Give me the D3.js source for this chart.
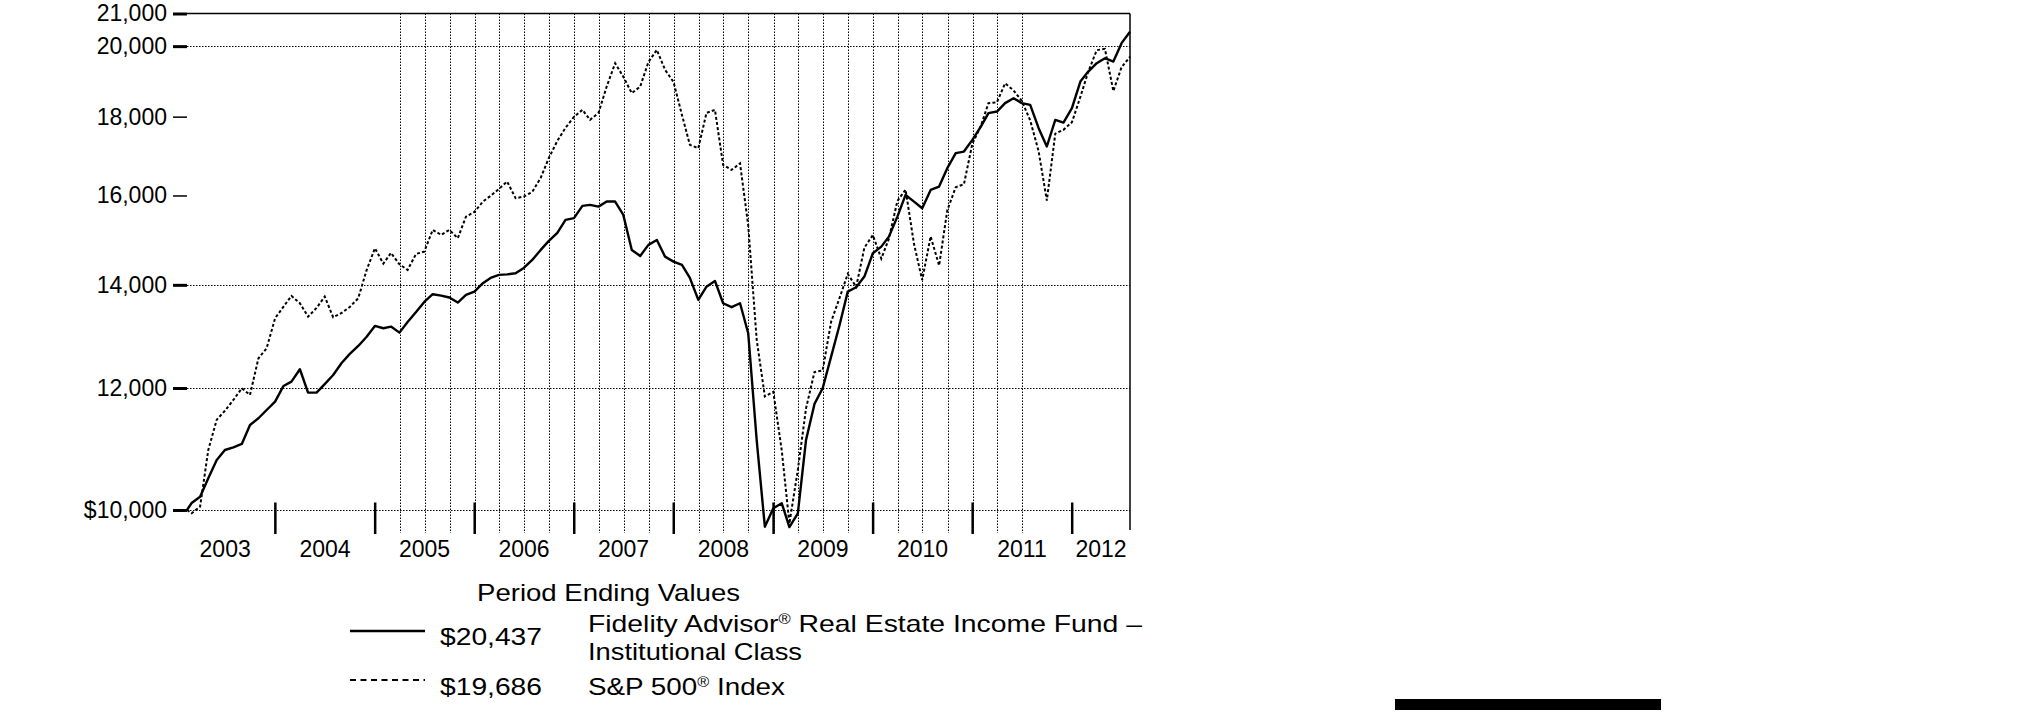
<!DOCTYPE html>
<html>
<head>
<meta charset="utf-8">
<script src="https://cdn.jsdelivr.net/npm/d3@7"></script>
<style>
body { margin: 0; background: #fff; }
text { font-family: "Liberation Sans", Arial, Helvetica, sans-serif; fill: #000; }
</style>
</head>
<body>
<svg id="chart" width="2025" height="728"></svg>
<script>
// growth of $10,000, first value at fund start then month ends Feb 2003 .. Jul 2012
var startDate = "2003-02-11";
var endDate = "2012-07-31";
var fundValues = [10000,
  10105, 10201, 10487, 10776, 10938, 10982, 11038, 11355, 11469, 11612, 11757,
  12037, 12115, 12341, 11917, 11917, 12070, 12236, 12457, 12627, 12778, 12951, 13166,
  13121, 13153, 13035, 13245, 13444, 13647, 13805, 13777, 13737, 13634, 13791, 13859,
  14034, 14145, 14209, 14220, 14245, 14358, 14531, 14750, 14950, 15130, 15426, 15466,
  15753, 15777, 15736, 15855, 15855, 15542, 14750, 14618, 14861, 14972, 14603, 14494,
  14423, 14145, 13688, 13962, 14082, 13620, 13540, 13620, 13023, 11103, 9753, 10025,
  10101, 9749, 9951, 11103, 11718, 11995, 12576, 13185, 13859, 13949, 14174, 14676,
  14823, 15046, 15503, 16013, 15855, 15698, 16134, 16214, 16666, 17044, 17085, 17386,
  17735, 18094, 18138, 18367, 18504, 18367, 18320, 17692, 17215, 17914, 17842, 18230,
  18969, 19254, 19497, 19644, 19545, 20090, 20437];
var indexValues = [10000,
  9951, 10050, 10938, 11445, 11598, 11787, 11995, 11876, 12545, 12734, 13318,
  13551, 13771, 13620, 13350, 13525, 13757, 13338, 13424, 13545, 13723, 14300, 14787,
  14451, 14683, 14437, 14315, 14662, 14712, 15198, 15085, 15198, 15010, 15503, 15612,
  15855, 15990, 16158, 16336, 15935, 15973, 16085, 16426, 16925, 17360, 17701, 17994,
  18184, 17914, 18102, 18829, 19497, 19104, 18643, 18829, 19530, 19890, 19304, 18960,
  18047, 17257, 17172, 18102, 18184, 16748, 16624, 16785, 15300, 12900, 11850, 11930,
  10930, 9800, 10620, 11640, 12290, 12320, 13250, 13730, 14230, 13960, 14800, 15080,
  14560, 15000, 15870, 16140, 14880, 14100, 15050, 14410, 15650, 16200, 16270, 17290,
  17750, 18367, 18390, 18920, 18720, 18430, 17900, 17090, 15880, 17550, 17650, 17850,
  18540, 19250, 19880, 19920, 18700, 19380, 19686];
var yTicks = [10000, 12000, 14000, 16000, 18000, 20000, 21000];
var yGridValues = [10000, 12000, 14000, 20000];
var yMinorTicks = [16000, 18000];
var years = [2003, 2004, 2005, 2006, 2007, 2008, 2009, 2010, 2011, 2012];
var legendTitle = "Period Ending Values";
var seriesNames = ["Fidelity Advisor", "S&P 500"];
var endingValues = ["$20,437", "$19,686"];

var svg = d3.select("#chart");
var parse = d3.timeParse("%Y-%m-%d");
var t0 = parse(startDate), t1 = parse(endDate);

var left = 187, right = 1130, bottom = 533;
var x = d3.scaleTime().domain([t0, t1]).range([left, right]);
var y = d3.scaleLog().domain([10000, 21000]).range([510, 13.5]);

var monthEnds = d3.timeMonth.range(new Date(2003, 2, 1), new Date(2012, 7, 2))
  .map(function(d) { return d3.timeDay.offset(d, -1); });
var dates = [t0].concat(monthEnds);
var fund = dates.map(function(d, i) { return {date: d, value: fundValues[i]}; });
var index = dates.map(function(d, i) { return {date: d, value: indexValues[i]}; });

// grid
var grid = svg.append("g").attr("stroke", "#000").attr("stroke-width", 1).attr("stroke-dasharray", "1.5,1.5");
grid.selectAll("line.hg").data(yGridValues).enter().append("line").attr("class", "hg")
  .attr("x1", left).attr("x2", right)
  .attr("y1", function(d) { return Math.round(y(d)) + 0.5; })
  .attr("y2", function(d) { return Math.round(y(d)) + 0.5; });
// quarterly verticals, Apr 2005 .. Jul 2011
var quarters = d3.range(26).map(function(i) { return new Date(2005, 3 + 3 * i, 1); });
grid.selectAll("line.vg").data(quarters).enter().append("line").attr("class", "vg")
  .attr("x1", function(d) { return Math.round(x(d)) + 0.5; })
  .attr("x2", function(d) { return Math.round(x(d)) + 0.5; })
  .attr("y1", y(21000)).attr("y2", bottom);

// frame: top and right
svg.append("line").attr("x1", left).attr("x2", right).attr("y1", y(21000)).attr("y2", y(21000))
  .attr("stroke", "#000").attr("stroke-width", 1.5);
svg.append("line").attr("x1", right).attr("x2", right).attr("y1", y(21000)).attr("y2", bottom - 3)
  .attr("stroke", "#000").attr("stroke-width", 1.5);

// y axis
var yAxis = svg.append("g").attr("transform", "translate(" + left + ",0)")
  .call(d3.axisLeft(y).tickValues(yTicks).tickSize(14).tickPadding(6)
    .tickFormat(function(d) { return (d === 10000 ? "$" : "") + d3.format(",")(d); }));
yAxis.select(".domain").remove();
yAxis.selectAll(".tick line").attr("stroke", "#000")
  .attr("stroke-width", function(d) { return yMinorTicks.indexOf(d) >= 0 ? 1.5 : 3; });
yAxis.selectAll(".tick text").attr("font-size", 23).attr("fill", "#000")
  .style("font-family", "'Liberation Sans', Arial, sans-serif");

// year ticks and labels
var yearStarts = d3.timeYear.range(new Date(2004, 0, 1), new Date(2012, 0, 2));
svg.append("g").selectAll("line").data(yearStarts).enter().append("line")
  .attr("x1", function(d) { return x(d); }).attr("x2", function(d) { return x(d); })
  .attr("y1", 502.5).attr("y2", 534).attr("stroke", "#000").attr("stroke-width", 2.5);
svg.append("g").selectAll("text").data(years).enter().append("text")
  .attr("x", function(d) {
    if (new Date(d + 1, 0, 1) > t1) return (x(new Date(d, 0, 1)) + right) / 2;
    return x(new Date(d, 6, 1));
  })
  .attr("y", 557).attr("text-anchor", "middle").attr("font-size", 23)
  .text(function(d) { return d; });

// series
var line = d3.line().x(function(d) { return x(d.date); }).y(function(d) { return y(d.value); });
svg.append("path").datum(index).attr("d", line).attr("fill", "none")
  .attr("stroke", "#000").attr("stroke-width", 2).attr("stroke-dasharray", "3,2.2");
svg.append("path").datum(fund).attr("d", line).attr("fill", "none")
  .attr("stroke", "#000").attr("stroke-width", 2.4).attr("stroke-linejoin", "round");

// legend
var fs = 24;
var lg = svg.append("g");
lg.append("text").attr("x", 477).attr("y", 601).attr("font-size", fs)
  .attr("textLength", 263).attr("lengthAdjust", "spacingAndGlyphs").text(legendTitle);
lg.append("line").attr("x1", 350).attr("x2", 425).attr("y1", 631).attr("y2", 631)
  .attr("stroke", "#000").attr("stroke-width", 2.4);
lg.append("line").attr("x1", 350).attr("x2", 425).attr("y1", 680).attr("y2", 680)
  .attr("stroke", "#000").attr("stroke-width", 2).attr("stroke-dasharray", "6,4.5");
lg.append("text").attr("x", 440).attr("y", 645).attr("font-size", fs)
  .attr("textLength", 102).attr("lengthAdjust", "spacingAndGlyphs").text(endingValues[0]);
lg.append("text").attr("x", 440).attr("y", 695).attr("font-size", fs)
  .attr("textLength", 102).attr("lengthAdjust", "spacingAndGlyphs").text(endingValues[1]);

var t1a = lg.append("text").attr("x", 588).attr("y", 632).attr("font-size", fs)
  .attr("textLength", 554).attr("lengthAdjust", "spacingAndGlyphs");
t1a.append("tspan").text(seriesNames[0]);
t1a.append("tspan").attr("font-size", 14).attr("dy", -8).text("®");
t1a.append("tspan").attr("dy", 8).text(" Real Estate Income Fund \u2013");
lg.append("text").attr("x", 588).attr("y", 660).attr("font-size", fs)
  .attr("textLength", 214).attr("lengthAdjust", "spacingAndGlyphs").text("Institutional Class");
var t2a = lg.append("text").attr("x", 588).attr("y", 695).attr("font-size", fs)
  .attr("textLength", 197).attr("lengthAdjust", "spacingAndGlyphs");
t2a.append("tspan").text(seriesNames[1]);
t2a.append("tspan").attr("font-size", 14).attr("dy", -8).text("®");
t2a.append("tspan").attr("dy", 8).text(" Index");

// black rule at lower right
svg.append("rect").attr("x", 1395).attr("y", 699).attr("width", 266).attr("height", 11).attr("fill", "#000");
</script>
</body>
</html>
